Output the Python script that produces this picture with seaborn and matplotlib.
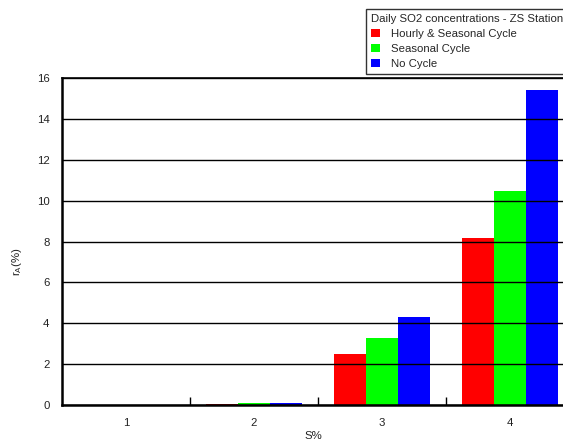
import matplotlib
matplotlib.use("Agg")
import matplotlib.pyplot as plt
import seaborn as sns
import pandas as pd
from matplotlib.ticker import FixedLocator
from matplotlib.patches import Patch

categories = ["1", "2", "3", "4"]
series_names = ["Hourly & Seasonal Cycle", "Seasonal Cycle", "No Cycle"]
hourly_seasonal = [0.0, 0.06, 2.5, 8.15]
seasonal = [0.0, 0.08, 3.3, 10.45]
no_cycle = [0.0, 0.12, 4.33, 15.4]
colors = ["#ff0000", "#00ff00", "#0000ff"]
legend_title = "Daily SO2 concentrations - ZS Station"

rows = []
for name, vals in zip(series_names, [hourly_seasonal, seasonal, no_cycle]):
    for c, v in zip(categories, vals):
        rows.append({"S%": c, "value": v, "series": name})
df = pd.DataFrame(rows)

sns.set_theme(style="white")
plt.rcParams["font.family"] = ["Liberation Sans", "DejaVu Sans"]
FS = 8.2
plt.rcParams["font.size"] = FS

W, H = 563, 443
fig = plt.figure(figsize=(W / 100, H / 100), dpi=100)
left, right, top, bottom = 62, 574, 78, 405
ax = fig.add_axes([left / W, 1 - bottom / H, (right - left) / W, (bottom - top) / H])

sns.barplot(data=df, x="S%", y="value", hue="series", hue_order=series_names,
            palette=colors, width=0.75, saturation=1, ax=ax, legend=False,
            linewidth=0)

ax.set_ylim(0, 16)
ax.set_xlim(-0.5, 3.5)
ax.set_yticks(range(0, 17, 2))
ax.yaxis.grid(True, color="black", linewidth=1.0)
ax.set_axisbelow(False)
for b in ax.patches:
    b.set_zorder(1)
ax.tick_params(axis="y", length=0, labelsize=FS, colors="#222222", pad=9)
ax.tick_params(axis="x", which="major", length=0, labelsize=FS, colors="#222222", pad=9)
ax.xaxis.set_minor_locator(FixedLocator([0.5, 1.5, 2.5]))
ax.tick_params(axis="x", which="minor", direction="in", length=6, width=1, color="black", bottom=True)

for s in ["left", "bottom"]:
    ax.spines[s].set_linewidth(1.8)
    ax.spines[s].set_color("black")
ax.spines["top"].set_linewidth(1.2)
ax.spines["top"].set_color("black")
ax.spines["right"].set_visible(False)

ax.set_xlabel("S%", fontsize=FS, color="#222222")
ax.xaxis.set_label_coords((313 - left) / (right - left), -(431 - bottom) / (bottom - top))
ax.set_ylabel(r"r$_\mathregular{A}$(%)", fontsize=FS, color="#222222")
ax.yaxis.set_label_coords(-(left - 24) / (right - left), (bottom - 262) / (bottom - top))

handles = [Patch(facecolor=c, edgecolor="none") for c in colors]
leg = fig.legend(handles, series_names, title=legend_title,
                 loc="upper left", bbox_to_anchor=(366 / W, 1 - 9 / H),
                 frameon=True, fancybox=False, fontsize=FS, title_fontsize=FS,
                 handlelength=0.8, handleheight=0.8, handletextpad=1.0,
                 labelspacing=0.42, borderpad=0.42, borderaxespad=0)
leg._legend_box.align = "left"
leg.get_frame().set_edgecolor("black")
leg.get_frame().set_linewidth(1.0)

fig.savefig("out.png", dpi=100)
